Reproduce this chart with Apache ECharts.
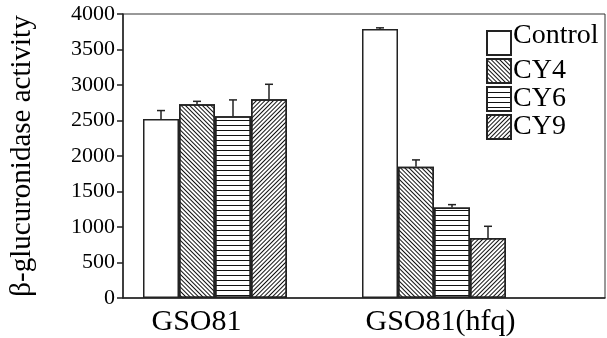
<!DOCTYPE html>
<html>
<head>
<meta charset="utf-8">
<script src="https://cdn.jsdelivr.net/npm/echarts@6/dist/echarts.min.js"></script>
<style>
html,body{margin:0;padding:0;background:#fff;}
#c{width:607px;height:338px;}
</style>
</head>
<body>
<div id="c"></div>
<script>
var categories = ['GSO81', 'GSO81(hfq)'];
var seriesNames = ['Control', 'CY4', 'CY6', 'CY9'];
var controlVals = [2520, 3790];
var controlErr = [120, 15];
var cy4Vals = [2730, 1850];
var cy4Err = [40, 95];
var cy6Vals = [2560, 1275];
var cy6Err = [230, 40];
var cy9Vals = [2800, 845];
var cy9Err = [210, 165];
var yTicks = [0, 500, 1000, 1500, 2000, 2500, 3000, 3500, 4000];

var FONT = "'Liberation Serif','Times New Roman',serif";
var BAR_W = 36;
var allVals = [controlVals, cy4Vals, cy6Vals, cy9Vals];
var allErr = [controlErr, cy4Err, cy6Err, cy9Err];

var decals = [
  null,
  {symbol:'rect', symbolSize:1, color:'#111', dashArrayX:[1,0], dashArrayY:[1,2], rotation: Math.PI/4},
  {symbol:'rect', symbolSize:1, color:'#111', dashArrayX:[1,0], dashArrayY:[1,4], rotation: 0},
  {symbol:'rect', symbolSize:1, color:'#111', dashArrayX:[1,0], dashArrayY:[1,2], rotation: -Math.PI/4}
];

var series = seriesNames.map(function(name, i){
  var st = {color:'#fff', borderColor:'#222', borderWidth:1.5};
  if (decals[i]) st.decal = decals[i];
  return {
    name: name, type: 'bar', xAxisIndex: 1, yAxisIndex: 1,
    barWidth: BAR_W, barGap: '0%',
    itemStyle: st,
    emphasis: {disabled: true},
    data: allVals[i]
  };
});

var errData = [];
allVals.forEach(function(vals, s){
  vals.forEach(function(v, c){ errData.push([c, v, v + allErr[s][c], s]); });
});

series.push({
  type: 'custom', xAxisIndex: 1, yAxisIndex: 1, z: 5, silent: true,
  data: errData,
  renderItem: function(params, api){
    var c = api.value(0), s = api.value(3);
    var off = (s - 1.5) * BAR_W;
    var p0 = api.coord([c, api.value(1)]);
    var p1 = api.coord([c, api.value(2)]);
    var x = p0[0] + off;
    var st = {stroke:'#222', lineWidth:1.5};
    return {type:'group', children:[
      {type:'line', shape:{x1:x, y1:p0[1], x2:x, y2:p1[1]}, style:st},
      {type:'line', shape:{x1:x-4, y1:p1[1], x2:x+4, y2:p1[1]}, style:st}
    ]};
  }
});

var chart = echarts.init(document.getElementById('c'));
chart.setOption({
  animation: false,
  textStyle: {fontFamily: FONT, color:'#000'},
  legend: {
    orient: 'vertical', left: 486, top: 22, padding: 0,
    itemWidth: 24, itemHeight: 24, itemGap: -14,
    icon: 'rect',
    data: seriesNames,
    formatter: function(n){ return (n === seriesNames[0] ? '{c|' : '{t|') + n + '}'; },
    textStyle: {fontFamily: FONT, fontSize: 28, color:'#000',
      rich: {
        c: {fontFamily: FONT, fontSize: 28, color:'#000', lineHeight: 10, padding:[0,0,14,-3]},
        t: {fontFamily: FONT, fontSize: 28, color:'#000', lineHeight: 10, padding:[7,0,7,-3]}
      }},
    selectedMode: false
  },
  grid: [
    {left: 119, top: 14, right: 2, bottom: 40, show: true, borderColor:'#333', borderWidth:1, backgroundColor:'transparent'},
    {left: 105.5, top: 14, width: 438, bottom: 40}
  ],
  xAxis: [
    {gridIndex: 0, type: 'value', min: 0, max: 1, axisLine:{show:true, lineStyle:{color:'#222', width:1.5}}, axisTick:{show:false}, axisLabel:{show:false}, splitLine:{show:false}},
    {gridIndex: 1, type: 'category', data: categories, axisLine:{show:false}, axisTick:{show:false},
     axisLabel:{interval: 0, hideOverlap: false, margin: 9, fontSize: 30, fontFamily: FONT, color:'#000',
       formatter: function(v, i){ return i === 0 ? '{a|' + v + '}' : '{b|' + v + '}'; },
       rich: {a:{fontSize:30, fontFamily:FONT, color:'#000', padding:[0,37,0,0]}, b:{fontSize:30, fontFamily:FONT, color:'#000', padding:[0,0,0,13]}}
     }}
  ],
  yAxis: [
    {gridIndex: 0, type: 'value', min: yTicks[0], max: yTicks[yTicks.length-1], interval: 500,
     name: 'β-glucuronidase activity', nameLocation: 'middle', nameGap: 86, nameRotate: 90,
     nameTextStyle: {fontSize: 29, fontFamily: FONT, color:'#000'},
     axisLine:{show:true, lineStyle:{color:'#222', width:1.5}},
     axisTick:{show:true, inside:false, length:6, lineStyle:{color:'#222', width:1.5}},
     axisLabel:{margin: 8, fontSize: 22, fontFamily: FONT, color:'#000', formatter: function(v){ return String(v); }},
     splitLine:{show:false}},
    {gridIndex: 1, type: 'value', min: yTicks[0], max: yTicks[yTicks.length-1], show: false, splitLine:{show:false}}
  ],
  series: series
});
</script>
</body>
</html>
